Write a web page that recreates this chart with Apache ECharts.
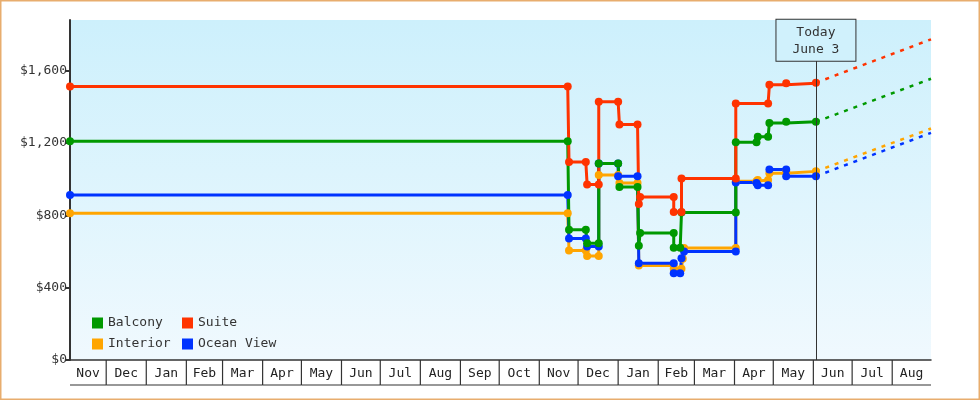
<!DOCTYPE html>
<html><head><meta charset="utf-8">
<script src="https://cdn.jsdelivr.net/npm/echarts@6/dist/echarts.min.js"></script>
<style>html,body{margin:0;padding:0;background:#fff}#c{width:980px;height:400px}</style>
</head><body><div id="c"></div>
<script>
const FONT = 'DejaVu Sans Mono';
const monthLabels = ['Nov','Dec','Jan','Feb','Mar','Apr','May','Jun','Jul','Aug','Sep','Oct',
                     'Nov','Dec','Jan','Feb','Mar','Apr','May','Jun','Jul','Aug'];
const firstMonth = [2021, 11];
const axisStart = '2021-11-03';
const axisEnd = '2023-08-31';
const today = '2023-06-03';
const todayLabel = ['Today', 'June 3'];
const yMax = 1880;
const yTicks = [0, 400, 800, 1200, 1600];

const suite = [
  ['2021-11-03',1512],['2022-11-23',1512],['2022-11-24',1095],['2022-12-07',1095],['2022-12-08',971],
  ['2022-12-17',971],['2022-12-17',1428],['2023-01-01',1428],['2023-01-02',1302],['2023-01-16',1302],
  ['2023-01-17',863],['2023-01-18',901],['2023-02-13',901],['2023-02-13',818],['2023-02-19',818],
  ['2023-02-19',1003],['2023-04-02',1003],['2023-04-02',1418],['2023-04-27',1418],['2023-04-28',1522],
  ['2023-05-11',1530],['2023-06-03',1533]
];
const balcony = [
  ['2021-11-03',1210],['2022-11-23',1210],['2022-11-24',720],['2022-12-07',720],['2022-12-08',646],
  ['2022-12-17',646],['2022-12-17',1086],['2023-01-01',1086],['2023-01-02',957],['2023-01-16',957],
  ['2023-01-17',632],['2023-01-18',702],['2023-02-13',702],['2023-02-13',620],['2023-02-18',620],
  ['2023-02-19',815],['2023-04-02',815],['2023-04-02',1204],['2023-04-18',1204],['2023-04-19',1235],
  ['2023-04-27',1235],['2023-04-28',1311],['2023-05-11',1317],['2023-06-03',1317]
];
const interior = [
  ['2021-11-03',812],['2022-11-23',812],['2022-11-24',605],['2022-12-07',605],['2022-12-08',575],
  ['2022-12-17',575],['2022-12-17',1023],['2023-01-01',1023],['2023-01-02',979],['2023-01-16',979],
  ['2023-01-17',522],['2023-02-13',522],['2023-02-13',505],['2023-02-19',505],['2023-02-20',560],
  ['2023-02-21',619],['2023-04-02',619],['2023-04-02',988],['2023-04-18',988],['2023-04-19',995],
  ['2023-04-27',995],['2023-04-28',1033],['2023-05-11',1043],['2023-06-03',1043]
];
const oceanView = [
  ['2021-11-03',912],['2022-11-23',912],['2022-11-24',672],['2022-12-07',672],['2022-12-08',628],
  ['2022-12-17',628],['2022-12-17',1086],['2023-01-01',1086],['2023-01-01',1016],['2023-01-16',1016],
  ['2023-01-17',535],['2023-02-13',535],['2023-02-13',480],['2023-02-18',480],['2023-02-19',563],
  ['2023-02-21',600],['2023-04-02',600],['2023-04-02',982],['2023-04-18',979],['2023-04-19',966],
  ['2023-04-27',966],['2023-04-28',1053],['2023-05-11',1053],['2023-05-11',1016],['2023-06-03',1016]
];
const suiteForecast = [['2023-06-03',1533],['2023-08-31',1773]];
const balconyForecast = [['2023-06-03',1317],['2023-08-31',1555]];
const interiorForecast = [['2023-06-03',1043],['2023-08-31',1280]];
const oceanForecast = [['2023-06-03',1016],['2023-08-31',1256]];
const todayBoxTop = 1655;

const colors = {Balcony:'#009900', Suite:'#ff3300', Interior:'#ffa500', 'Ocean View':'#0033ff'};

function ts(s){ const p = s.split('-').map(Number); return new Date(p[0], p[1]-1, p[2]).getTime(); }
const xMin = ts(axisStart), xMax = ts(axisEnd);

const monthCells = monthLabels.map((l, i) => {
  const s = new Date(firstMonth[0], firstMonth[1]-1+i, 1).getTime();
  const e = new Date(firstMonth[0], firstMonth[1]+i, 1).getTime();
  return [s, 0, e, i];
});

function mainSeries(name, data, extra){
  const c = colors[name];
  return Object.assign({
    name, type:'line', step:'end', data: data.map(p => [ts(p[0]), p[1]]),
    symbol:'circle', symbolSize:8, showSymbol:true, showAllSymbol:true,
    lineStyle:{color:c, width:3}, itemStyle:{color:c},
    emphasis:{disabled:true}, animation:false
  }, extra || {});
}
function forecastSeries(name, data){
  const c = colors[name];
  return {
    name, type:'line', data: data.map(p => [ts(p[0]), p[1]]),
    symbol:'none', lineStyle:{color:c, width:2.5, type:[4,6]}, itemStyle:{color:c},
    emphasis:{disabled:true}, animation:false
  };
}

const chart = echarts.init(document.getElementById('c'), null, {renderer:'canvas'});
const legendBase = {
  orient:'vertical', top:316, padding:0, icon:'rect', itemWidth:11, itemHeight:11, itemGap:7,
  selectedMode:false,
  textStyle:{fontFamily:FONT, fontSize:13, color:'#333', lineHeight:14}
};
chart.setOption({
  animation:false,
  textStyle:{fontFamily:FONT},
  graphic:[{type:'rect', shape:{x:0.75, y:0.75, width:978.5, height:398.5},
            style:{fill:'none', stroke:'#e8ad6e', lineWidth:1.5}, silent:true, z:100}],
  grid:{left:70, right:49, top:20, bottom:40, show:true, borderWidth:0,
        backgroundColor:{type:'linear', x:0, y:0, x2:0, y2:1,
          colorStops:[{offset:0, color:'#cdf0fc'}, {offset:1, color:'#f0f9fe'}]}},
  legend:[
    Object.assign({left:92, data:['Balcony','Interior']}, legendBase),
    Object.assign({left:182, data:['Suite','Ocean View']}, legendBase)
  ],
  xAxis:{type:'time', min:xMin, max:xMax,
    axisLine:{show:true, lineStyle:{color:'#333', width:1.5}},
    axisTick:{show:false}, axisLabel:{show:false}, splitLine:{show:false}},
  yAxis:{type:'value', min:0, max:yMax,
    axisLine:{show:true, lineStyle:{color:'#333', width:2}},
    axisTick:{show:true, length:5, customValues:yTicks, lineStyle:{color:'#333', width:2}},
    axisLabel:{margin:3, color:'#333', fontFamily:FONT, fontSize:13, customValues:yTicks,
      formatter: v => '$' + v.toLocaleString('en-US')},
    splitLine:{show:false}},
  series:[
    {
      type:'custom', clip:false, silent:true, animation:false,
      dimensions:['start','y','end','idx'], encode:{x:0, y:1},
      data: monthCells,
      renderItem: function(params, api){
        const s = api.value(0), e = api.value(2), idx = api.value(3);
        const p0 = api.coord([Math.max(s, xMin), 0]);
        const p1 = api.coord([Math.min(e, xMax), 0]);
        const y = p0[1];
        const children = [
          {type:'text', style:{x:(p0[0]+p1[0])/2, y:y+13.5, text:monthLabels[idx],
            align:'center', verticalAlign:'middle', font:'13px "' + FONT + '"', fill:'#222'}},
          {type:'line', shape:{x1:p0[0], y1:y+25, x2:p1[0], y2:y+25},
            style:{stroke:'#333', lineWidth:1.2}}
        ];
        if (s > xMin) children.push({type:'line', shape:{x1:p0[0], y1:y, x2:p0[0], y2:y+25},
            style:{stroke:'#333', lineWidth:1.2}});
        return {type:'group', children};
      }
    },
    forecastSeries('Interior', interiorForecast),
    forecastSeries('Ocean View', oceanForecast),
    forecastSeries('Balcony', balconyForecast),
    forecastSeries('Suite', suiteForecast),
    mainSeries('Interior', interior),
    mainSeries('Ocean View', oceanView),
    mainSeries('Balcony', balcony),
    mainSeries('Suite', suite, {
      markLine:{
        silent:true, animation:false, symbol:['none','none'],
        lineStyle:{color:'#333', width:1, type:'solid'},
        label:{show:true, position:'end', distance:0, formatter: todayLabel.join('\n'),
          fontFamily:FONT, fontSize:13, color:'#333', lineHeight:17,
          backgroundColor:'#d0f1fc', borderColor:'#333', borderWidth:1, padding:[4,16,3,16]},
        data:[[{coord:[ts(today), 0]}, {coord:[ts(today), todayBoxTop]}]]
      }
    })
  ]
});
</script></body></html>
